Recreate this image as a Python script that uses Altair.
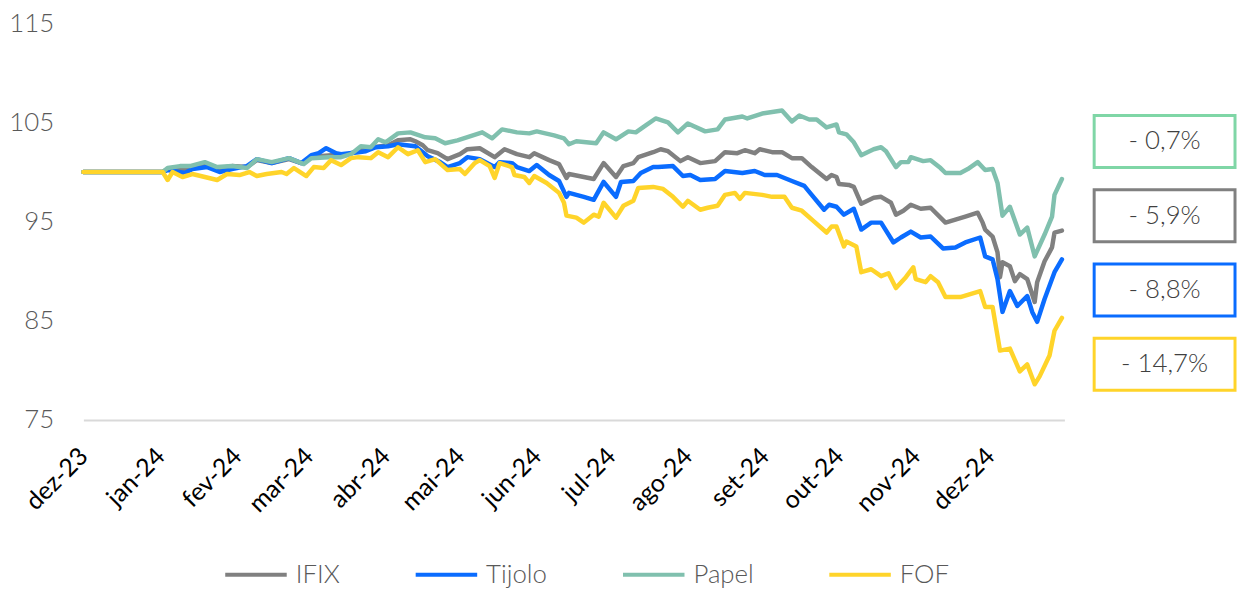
import json
import pandas as pd
import altair as alt

inicio = "2023-12-01"
meses = ["jan", "fev", "mar", "abr", "mai", "jun", "jul", "ago", "set", "out", "nov", "dez"]
series = ["IFIX", "Tijolo", "Papel", "FOF"]
cores = ["#808080", "#0A6CFF", "#80C0AE", "#FFD42A"]

dias_ifix = [0, 32, 34, 41, 50, 55, 60, 66, 70, 76, 83, 88, 92, 95, 100, 104, 111, 117, 123, 127,
             132, 134, 137, 139, 143, 147, 152, 155, 160, 166, 170, 175, 180, 182, 188, 192, 195, 196, 202, 206,
             210, 215, 218, 222, 224, 230, 233, 236, 241, 244, 249, 255, 259, 264, 267, 271, 273, 278, 282, 286,
             290, 294, 300, 302, 304, 305, 309, 311, 314, 319, 322, 326, 328, 331, 334, 338, 342, 348, 352, 356,
             361, 363, 364, 367, 369, 370, 371, 374, 376, 378, 381, 384, 385, 388, 391, 392, 395]
ifix = [100.0, 100.0, 100.3, 100.2, 100.7, 100.4, 100.6, 100.5, 101.2, 100.9, 101.3, 100.9, 101.5, 101.6, 101.7, 101.6, 102.1, 102.5, 102.7, 103.2,
        103.3, 103.1, 102.7, 102.2, 101.9, 101.3, 101.8, 102.3, 102.4, 101.5, 102.3, 101.8, 101.5, 101.9, 101.2, 100.8, 99.4, 99.8, 99.5, 99.3,
        100.9, 99.5, 100.6, 100.9, 101.5, 102.0, 102.3, 102.1, 101.1, 101.5, 100.9, 101.1, 102.0, 101.9, 102.2, 101.9, 102.3, 102.0, 102.0, 101.4,
        101.4, 100.5, 99.3, 99.7, 99.5, 98.8, 98.7, 98.5, 96.8, 97.4, 97.5, 96.9, 95.7, 96.1, 96.7, 96.3, 96.4, 94.9, 95.2, 95.5,
        95.9, 94.9, 94.2, 93.5, 91.9, 89.4, 90.9, 90.5, 89.0, 89.7, 89.2, 86.9, 88.9, 91.0, 92.4, 93.9, 94.1]

dias_tijolo = [0, 32, 34, 41, 44, 50, 55, 60, 66, 70, 76, 83, 88, 92, 95, 98, 102, 104, 111, 114,
               118, 123, 127, 134, 139, 144, 147, 152, 155, 160, 166, 168, 173, 175, 180, 183, 188, 192, 195, 196,
               202, 206, 210, 215, 217, 222, 225, 230, 232, 238, 242, 245, 249, 255, 259, 266, 271, 275, 280, 286,
               291, 294, 299, 301, 304, 307, 311, 314, 318, 322, 327, 330, 334, 338, 342, 347, 352, 356, 362, 364,
               367, 369, 371, 374, 377, 381, 383, 385, 388, 392, 395]
tijolo = [100.0, 100.0, 100.2, 99.9, 100.3, 100.5, 100.0, 100.3, 100.6, 101.3, 100.9, 101.4, 100.9, 101.7, 101.9, 102.4, 101.9, 101.8, 102.0, 102.1,
          102.5, 102.6, 102.8, 102.6, 101.6, 101.0, 100.5, 100.9, 101.5, 101.3, 100.5, 101.0, 100.9, 100.5, 100.1, 100.7, 99.7, 99.1, 97.5, 97.9,
          97.5, 97.2, 99.0, 97.5, 99.0, 99.1, 99.9, 100.5, 100.5, 100.6, 99.6, 99.7, 99.2, 99.3, 100.1, 99.9, 100.1, 99.7, 99.7, 99.1,
          98.6, 97.7, 96.2, 96.7, 96.5, 95.7, 96.3, 94.2, 94.9, 94.9, 92.9, 93.4, 94.0, 93.4, 93.5, 92.3, 92.4, 92.9, 93.4, 91.5,
          91.2, 89.2, 85.9, 88.0, 86.5, 87.5, 85.9, 84.9, 87.2, 89.9, 91.2]

dias_papel = [0, 32, 34, 39, 43, 49, 54, 60, 66, 70, 76, 83, 89, 92, 99, 104, 108, 112, 116, 119,
              122, 127, 132, 138, 142, 146, 151, 156, 161, 165, 169, 175, 180, 183, 190, 194, 196, 199, 207, 210,
              215, 220, 223, 227, 231, 236, 240, 244, 251, 256, 259, 266, 268, 274, 282, 286, 289, 293, 296, 300,
              304, 305, 308, 311, 314, 319, 322, 324, 328, 330, 333, 334, 339, 342, 346, 348, 354, 357, 361, 364,
              367, 369, 371, 374, 378, 381, 384, 388, 391, 392, 395]
papel = [100.0, 100.0, 100.4, 100.6, 100.6, 101.0, 100.5, 100.6, 100.4, 101.3, 101.0, 101.4, 100.8, 101.4, 101.5, 101.5, 101.8, 102.6, 102.5, 103.3,
         103.0, 103.9, 104.0, 103.5, 103.4, 102.9, 103.2, 103.6, 104.0, 103.4, 104.3, 104.0, 103.9, 104.1, 103.7, 103.4, 102.8, 103.1, 102.9, 104.0,
         103.3, 104.1, 104.0, 104.7, 105.4, 105.0, 104.0, 104.9, 104.1, 104.3, 105.3, 105.6, 105.4, 105.9, 106.2, 105.1, 105.7, 105.3, 105.3, 104.5,
         104.8, 104.0, 103.8, 103.0, 101.7, 102.3, 102.5, 102.1, 100.5, 101.0, 101.0, 101.5, 101.1, 101.2, 100.4, 99.9, 99.9, 100.3, 101.0, 100.2,
         100.3, 98.9, 95.6, 96.5, 93.7, 94.4, 91.5, 93.7, 95.5, 97.7, 99.3]

dias_fof = [0, 32, 34, 36, 40, 44, 49, 54, 58, 63, 67, 70, 74, 80, 82, 85, 90, 93, 97, 100,
            104, 108, 111, 116, 119, 123, 127, 131, 135, 138, 142, 147, 152, 154, 158, 160, 164, 166, 168, 173,
            174, 178, 180, 182, 187, 192, 194, 195, 199, 202, 206, 208, 210, 215, 218, 222, 224, 230, 234, 238,
            242, 244, 249, 252, 256, 259, 263, 265, 267, 274, 278, 283, 286, 290, 295, 300, 302, 304, 307, 308,
            312, 314, 318, 322, 325, 328, 332, 335, 336, 340, 342, 345, 348, 354, 358, 362, 364, 367, 370, 374,
            378, 381, 384, 386, 390, 392, 395]
fof = [100.0, 100.0, 99.2, 100.0, 99.5, 99.8, 99.5, 99.2, 99.8, 99.7, 100.0, 99.6, 99.8, 100.0, 99.8, 100.4, 99.6, 100.5, 100.4, 101.2,
       100.7, 101.4, 101.5, 101.4, 102.0, 101.5, 102.5, 101.8, 102.2, 101.0, 101.3, 100.2, 100.3, 99.8, 100.9, 101.2, 100.6, 99.4, 100.9, 100.5,
       99.7, 99.5, 98.9, 99.6, 98.9, 97.9, 96.9, 95.6, 95.4, 94.9, 95.7, 95.5, 96.9, 95.4, 96.6, 97.1, 98.4, 98.5, 98.3, 97.5,
       96.5, 97.1, 96.2, 96.4, 96.6, 97.7, 97.9, 97.3, 97.9, 97.7, 97.5, 97.5, 96.4, 96.1, 95.0, 93.9, 94.5, 94.5, 92.5, 93.0,
       92.5, 89.9, 90.2, 89.5, 89.8, 88.3, 89.4, 90.4, 89.2, 88.9, 89.5, 88.9, 87.4, 87.4, 87.7, 88.0, 86.4, 86.4, 82.0, 82.2,
       79.9, 80.6, 78.6, 79.4, 81.5, 84.0, 85.3]

series_caixas = ["Papel", "IFIX", "Tijolo", "FOF"]
rotulos_caixas = ["- 0,7%", "- 5,9%", "- 8,8%", "- 14,7%"]
cores_caixas = ["#7FD6A6", "#808080", "#0A6CFF", "#FFD42A"]

FONTE = "Lato"

linhas_df = []
for nome, dias, vals in [("IFIX", dias_ifix, ifix), ("Tijolo", dias_tijolo, tijolo),
                         ("Papel", dias_papel, papel), ("FOF", dias_fof, fof)]:
    assert len(dias) == len(vals), nome
    for d, v in zip(dias, vals):
        data = (pd.Timestamp(inicio) + pd.Timedelta(days=d)).strftime("%Y-%m-%d")
        linhas_df.append({"serie": nome, "data": data, "valor": v})
df = pd.DataFrame(linhas_df)

marcas_mes = [alt.DateTime(year=2023, month=12, date=1, utc=True)] + [
    alt.DateTime(year=2024, month=m, date=1, utc=True) for m in range(1, 13)]
label_expr = json.dumps(meses) + "[utcmonth(datum.value)] + '-' + utcFormat(datum.value, '%y')"

principal = alt.Chart(df).mark_line(strokeWidth=4.5, strokeJoin="round", strokeCap="round").encode(
    x=alt.X("data:T",
            scale=alt.Scale(type="utc",
                            domain=[alt.DateTime(year=2023, month=12, date=1, utc=True),
                                    alt.DateTime(year=2024, month=12, date=31, utc=True)]),
            axis=alt.Axis(values=marcas_mes, labelExpr=label_expr, labelAngle=-45,
                          labelAlign="right", labelBaseline="middle", labelPadding=32,
                          labelFont=FONTE, labelFontSize=25, labelColor="#000000",
                          labelOverlap=False, labelFlush=False, ticks=False, grid=False,
                          domainColor="#D9D9D9", domainWidth=2, title=None)),
    y=alt.Y("valor:Q",
            scale=alt.Scale(domain=[75, 115], nice=False, zero=False),
            axis=alt.Axis(values=[75, 85, 95, 105, 115], labelFont=FONTE, labelFontSize=26,
                          labelFontWeight=300, labelColor="#595959", labelPadding=30,
                          ticks=False, domain=False, grid=False, title=None)),
    color=alt.Color("serie:N", sort=series,
                    scale=alt.Scale(domain=series, range=cores),
                    legend=alt.Legend(orient="none", legendX=141, legendY=542, direction="horizontal",
                                      title=None, symbolType="stroke", symbolStrokeWidth=4,
                                      symbolSize=3844, clipHeight=28, labelFont=FONTE, labelFontSize=26,
                                      labelFontWeight=300, labelColor="#595959", labelOffset=7,
                                      columnPadding=74)),
).properties(width=989, height=400)

caixas_df = pd.DataFrame({"serie": series_caixas, "rotulo": rotulos_caixas, "cor": cores_caixas})
base = alt.Chart(caixas_df).encode(
    y=alt.Y("serie:N", sort=series_caixas,
            scale=alt.Scale(range=[93, 370], paddingInner=0.3, paddingOuter=0), axis=None))
retangulos = base.mark_rect(fill="white", strokeWidth=3).encode(stroke=alt.Stroke("cor:N", scale=None))
textos = base.mark_text(font=FONTE, fontSize=26, fontWeight=300, color="#404040").encode(text="rotulo:N")
painel = alt.layer(retangulos, textos).properties(width=142, height=400)

chart = alt.hconcat(principal, painel, spacing=28).properties(
    padding={"left": 0, "top": 0, "right": 0, "bottom": 0}
).configure_view(stroke=None)

chart.save("out.html", embed_options={"renderer": "svg", "actions": False})
